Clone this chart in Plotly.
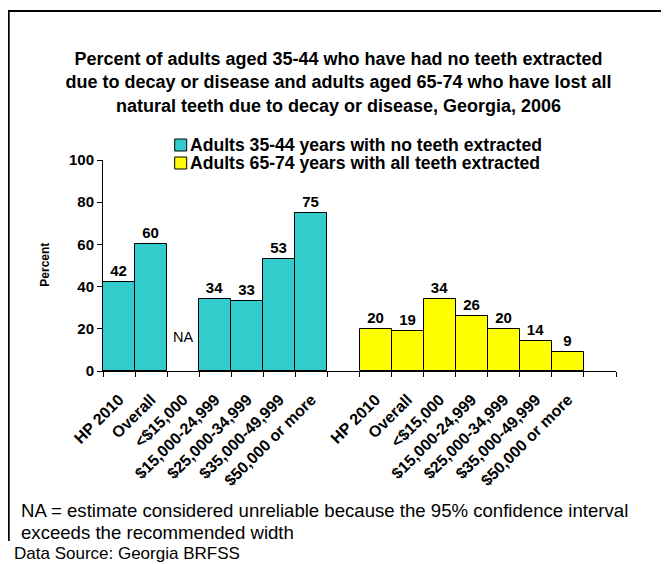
import plotly.graph_objects as go

# ---------------- data ----------------
categories = ["HP 2010", "Overall", "<$15,000", "$15,000-24,999",
              "$25,000-34,999", "$35,000-49,999", "$50,000 or more"]
no_teeth_extracted_35_44 = [42, 60, None, 34, 33, 53, 75]   # None = NA
all_teeth_extracted_65_74 = [20, 19, 34, 26, 20, 14, 9]
series_names = ["Adults 35-44 years with no teeth extracted",
                "Adults 65-74 years with all teeth extracted"]
series_colors = ["#33CCCC", "#FFFF00"]
y_tick_values = [0, 20, 40, 60, 80, 100]
na_label = "NA"
na_label_level = 16

title_text = ("Percent of adults aged 35-44 who have had no teeth extracted<br>"
              "due to decay or disease and adults aged 65-74 who have lost all<br>"
              "natural teeth due to decay or disease, Georgia, 2006")
footnote_lines = ["NA = estimate considered unreliable because the 95% confidence interval",
                  "exceeds the recommended width"]
source_text = "Data Source: Georgia BRFSS"

# ---------------- layout helpers (page pixel coordinates) ----------------
PAGE_W, PAGE_H = 669, 564
BODY = 8                                   # default page margin around the figure
W, H = PAGE_W - BODY, PAGE_H - BODY
PL, PR, PT, PB = 103.3, 616.3, 160, 371    # plot-area box in page pixels


def px_x(px):
    return (px - PL) / (PR - PL)


def px_y(py):
    return (PB - py) / (PB - PT)


n = len(categories)
x_group1 = list(range(n))
x_group2 = [n + 1 + i for i in range(n)]
n_slots = 2 * n + 2

FONT = "Liberation Sans, Arial, sans-serif"


def labels(vals):
    return [("" if v is None else str(v)) for v in vals]


fig = go.Figure()
for xs, vals, name, color in [(x_group1, no_teeth_extracted_35_44, series_names[0], series_colors[0]),
                              (x_group2, all_teeth_extracted_65_74, series_names[1], series_colors[1])]:
    fig.add_trace(go.Bar(
        x=xs, y=vals, name=name,
        marker=dict(color=color, line=dict(color="black", width=1)),
        text=labels(vals), textposition="outside",
        textfont=dict(family=FONT, size=15, color="black", weight="bold"),
        cliponaxis=False, showlegend=False,
    ))

na_index = no_teeth_extracted_35_44.index(None)
fig.add_annotation(x=x_group1[na_index], y=na_label_level, text=na_label,
                   showarrow=False, font=dict(family=FONT, size=14.5, color="black"))

# legend (drawn as swatches + text)
legend_rows_y = [145, 163]
for name, color, ry in zip(series_names, series_colors, legend_rows_y):
    fig.add_shape(type="rect", xref="paper", yref="paper",
                  x0=px_x(175), x1=px_x(187), y0=px_y(ry - 6), y1=px_y(ry + 6),
                  fillcolor=color, line=dict(color="black", width=1))
    fig.add_annotation(xref="paper", yref="paper", x=px_x(188), y=px_y(ry),
                       xanchor="left", yanchor="middle", text=name, showarrow=False,
                       font=dict(family=FONT, size=17.6, color="black", weight="bold"))

# frame (left and top edges)
fig.add_shape(type="line", xref="paper", yref="paper",
              x0=px_x(9), x1=px_x(9), y0=px_y(11), y1=px_y(541),
              line=dict(color="black", width=2))
fig.add_shape(type="line", xref="paper", yref="paper",
              x0=px_x(8), x1=px_x(700), y0=px_y(11), y1=px_y(11),
              line=dict(color="black", width=2))

# y-axis title
fig.add_annotation(xref="paper", yref="paper", x=px_x(36), y=px_y(265),
                   text="Percent", textangle=-90, showarrow=False,
                   font=dict(family=FONT, size=12, color="black", weight="bold"))

# footnotes
for txt, yy, xx, fs in [(footnote_lines[0], 510, 19, 18.6),
                        (footnote_lines[1], 532, 19, 18.6),
                        (source_text, 553, 12, 17)]:
    fig.add_annotation(xref="paper", yref="paper", x=px_x(xx), y=px_y(yy),
                       xanchor="left", yanchor="middle", text=txt, showarrow=False,
                       font=dict(family=FONT, size=fs, color="black"))

fig.update_layout(
    width=W, height=H,
    margin=dict(l=PL - BODY, r=PAGE_W - PR, t=PT - BODY, b=PAGE_H - PB,
                autoexpand=False),
    paper_bgcolor="white", plot_bgcolor="white",
    bargap=0, barmode="overlay",
    font=dict(family=FONT, color="black"),
    title=dict(text=title_text, x=0.5, xref="container", xanchor="center",
               y=1 - 57 / H, yref="container", yanchor="top",
               font=dict(family=FONT, size=18, color="black", weight="bold")),
    showlegend=False,
    xaxis=dict(
        range=[-0.5, n_slots - 0.5],
        tickmode="array",
        tickvals=x_group1 + x_group2,
        ticktext=categories + categories,
        tickangle=-45,
        ticks="",
        ticklabelstandoff=12,
        tickfont=dict(family=FONT, size=16, color="black", weight="bold"),
        showline=True, linecolor="black", linewidth=1,
        showgrid=False, zeroline=False, fixedrange=True,
        minor=dict(tickmode="array",
                   tickvals=[i - 0.5 for i in range(n_slots + 1)],
                   ticks="outside", ticklen=5, tickcolor="black", showgrid=False),
    ),
    yaxis=dict(
        range=[0, 100],
        tickmode="array", tickvals=y_tick_values,
        ticks="outside", ticklen=5, tickcolor="black",
        tickfont=dict(family=FONT, size=15, color="black", weight="bold"),
        showline=True, linecolor="black", linewidth=1,
        showgrid=False, zeroline=False, fixedrange=True,
    ),
)

fig.write_html("out.html")
